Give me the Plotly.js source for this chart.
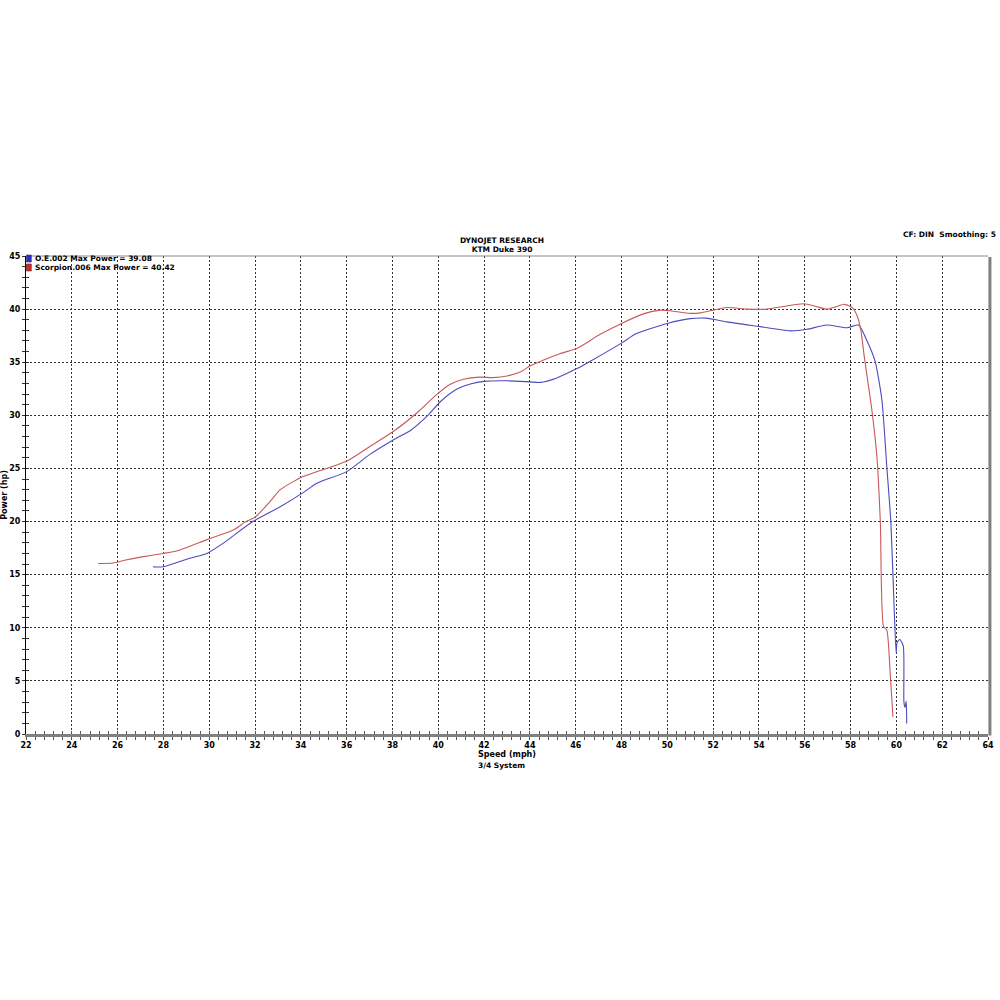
<!DOCTYPE html>
<html>
<head>
<meta charset="utf-8">
<script src="https://cdn.plot.ly/plotly-3.0.1.min.js"></script>
<style>html,body{margin:0;padding:0;background:#fff;}#chart{width:1000px;height:1000px;}</style>
</head>
<body>
<div id="chart"></div>
<script>
// Scorpion.006 run
const scorpionSpeed = [25.15,25.8,26.3,27.0,28.0,28.7,29.9,31.05,31.6,32.0,32.66,33.1,34.05,35.4,36.1,37.0,38.05,39.05,39.9,40.5,41.1,41.8,42.4,43.0,43.6,44.0,44.6,45.3,46.05,47.05,48.0,48.95,49.7,50.1,51.0,51.45,52.0,52.6,53.5,54.35,55.2,55.95,56.5,56.95,57.4,57.75,58.1,58.3,58.45,58.6,58.93,59.15,59.3,59.44,59.58,59.73,59.85];
const scorpionPower = [16.05,16.1,16.35,16.65,17.0,17.3,18.3,19.2,20.0,20.4,21.9,23.0,24.2,25.2,25.8,27.05,28.5,30.2,31.9,32.9,33.4,33.6,33.55,33.7,34.1,34.65,35.2,35.8,36.3,37.6,38.65,39.55,39.9,39.85,39.6,39.65,39.9,40.15,40.0,40.0,40.3,40.5,40.25,40.0,40.25,40.45,40.1,39.3,38.0,35.5,30.5,26.1,19.9,10.1,9.8,5.7,1.6];
// O.E.002 run
const oeSpeed = [27.55,28.0,29.15,29.9,30.6,31.9,33.1,34.05,34.7,36.0,37.0,38.05,38.8,39.5,40.1,40.8,41.4,42.0,43.0,44.0,44.45,45.15,46.05,46.6,48.0,48.65,50.0,51.0,51.7,52.6,54.05,55.35,56.1,56.95,57.85,58.35,58.7,59.07,59.37,59.58,59.76,59.9,59.99,60.03,60.15,60.3,60.33,60.38,60.43,60.45];
const oePower = [15.73,15.75,16.55,17.0,17.95,20.0,21.4,22.65,23.6,24.7,26.3,27.7,28.6,29.9,31.3,32.45,32.95,33.2,33.25,33.15,33.1,33.5,34.4,35.05,36.8,37.7,38.65,39.1,39.15,38.8,38.35,37.95,38.1,38.5,38.25,38.5,37.1,35.1,31.4,25.2,19.9,12.0,7.6,8.6,8.9,8.3,3.0,2.5,3.1,1.0];

const seriesNames = ["O.E.002 Max Power = 39.08", "Scorpion.006 Max Power = 40.42"];
const xTicks = [22,24,26,28,30,32,34,36,38,40,42,44,46,48,50,52,54,56,58,60,62,64];
const yTicks = [0,5,10,15,20,25,30,35,40,45];

const FONT = 'DejaVu Sans, Verdana, sans-serif';
const BLUE = '#4b4bbd';
const RED = '#c9585a';
const tf = {family: FONT, size: 8, color: '#000', weight: 'bold'};
const sf = {family: FONT, size: 7.5, color: '#000', weight: 'bold'};

const traces = [
  {x: oeSpeed, y: oePower, type: 'scatter', mode: 'lines', name: seriesNames[0],
   line: {color: BLUE, width: 1.1, shape: 'spline', smoothing: 0.6}},
  {x: scorpionSpeed, y: scorpionPower, type: 'scatter', mode: 'lines', name: seriesNames[1],
   line: {color: RED, width: 1.1, shape: 'spline', smoothing: 0.6}},
  {x: [], y: [], type: 'scatter', xaxis: 'x2', yaxis: 'y', showlegend: false, hoverinfo: 'skip'},
  {x: [], y: [], type: 'scatter', xaxis: 'x', yaxis: 'y2', showlegend: false, hoverinfo: 'skip'}
];

const layout = {
  width: 1000, height: 1000,
  paper_bgcolor: '#fff', plot_bgcolor: '#fff',
  margin: {l: 26, r: 12, t: 256, b: 266, pad: 0},
  showlegend: false,
  title: {text: 'DYNOJET RESEARCH<br>KTM Duke 390', x: 0.502, xanchor: 'center',
          y: 0.7575, yanchor: 'middle', font: sf},
  xaxis: {
    range: [22, 64], tickmode: 'array', tickvals: xTicks, ticktext: xTicks.map(String),
    showgrid: true, gridcolor: '#333', gridwidth: 1, griddash: '2px,2px',
    showline: true, linecolor: '#808080', linewidth: 3,
    ticks: 'outside', ticklen: 3, tickcolor: '#555', ticklabelstandoff: -2,
    minor: {dtick: 0.4, tick0: 22, ticks: 'outside', ticklen: 3, tickcolor: '#555', showgrid: false},
    zeroline: false, tickfont: tf,
    title: {text: 'Speed (mph)', font: tf, standoff: 0}
  },
  xaxis2: {
    overlaying: 'x', anchor: 'y', side: 'bottom', range: [22, 64],
    tickmode: 'linear', tick0: 22, dtick: 2, ticks: 'inside', ticklen: 3, tickcolor: '#555',
    minor: {dtick: 0.4, tick0: 22, ticks: 'inside', ticklen: 3, tickcolor: '#555', showgrid: false},
    showticklabels: false, showgrid: false, zeroline: false, showline: false
  },
  yaxis: {
    range: [0, 45], tickmode: 'array', tickvals: yTicks, ticktext: yTicks.map(String),
    showgrid: true, gridcolor: '#333', gridwidth: 1, griddash: '2px,2px',
    showline: true, linecolor: '#000', linewidth: 1,
    ticks: 'outside', ticklen: 3, tickcolor: '#333',
    minor: {dtick: 1, tick0: 0, ticks: 'outside', ticklen: 3, tickcolor: '#333', showgrid: false},
    zeroline: false, tickfont: tf,
    title: {text: 'Power (hp)', font: tf, standoff: 3}
  },
  yaxis2: {
    overlaying: 'y', anchor: 'x', side: 'left', range: [0, 45],
    tickmode: 'linear', tick0: 0, dtick: 5, ticks: 'inside', ticklen: 3, tickcolor: '#333',
    minor: {dtick: 1, tick0: 0, ticks: 'inside', ticklen: 3, tickcolor: '#333', showgrid: false},
    showticklabels: false, showgrid: false, zeroline: false, showline: false
  },
  shapes: [
    {type: 'line', xref: 'paper', yref: 'paper', x0: 0, x1: 1, y0: 1, y1: 1,
     line: {color: '#8a8a8a', width: 1}},
    {type: 'line', xref: 'paper', yref: 'paper', x0: 1.002, x1: 1.002, y0: -0.003, y1: 0.998,
     line: {color: '#7f7f7f', width: 3}},
    {type: 'rect', xref: 'paper', yref: 'paper', x0: 0.0005, x1: 0.0055, y0: 0.9874, y1: 1.002,
     fillcolor: '#2b2bd8', line: {color: '#333', width: 0.6}},
    {type: 'rect', xref: 'paper', yref: 'paper', x0: 0.0005, x1: 0.0055, y0: 0.9686, y1: 0.9833,
     fillcolor: '#e02424', line: {color: '#333', width: 0.6}}
  ],
  annotations: [
    {text: seriesNames[0], xref: 'paper', yref: 'paper', x: 0.0073, y: 0.9948,
     xanchor: 'left', yanchor: 'middle', showarrow: false, font: sf},
    {text: seriesNames[1], xref: 'paper', yref: 'paper', x: 0.0073, y: 0.9759,
     xanchor: 'left', yanchor: 'middle', showarrow: false, font: sf},
    {text: 'CF: DIN&nbsp;&nbsp;Smoothing: 5', xref: 'paper', yref: 'paper', x: 1.0104, y: 1.044,
     xanchor: 'right', yanchor: 'middle', showarrow: false, font: sf},
    {text: '3/4 System', xref: 'paper', yref: 'paper', x: 0.4948, y: -0.0649,
     xanchor: 'center', yanchor: 'middle', showarrow: false, font: sf}
  ]
};

Plotly.newPlot('chart', traces, layout, {staticPlot: true, displayModeBar: false});
</script>
</body>
</html>
